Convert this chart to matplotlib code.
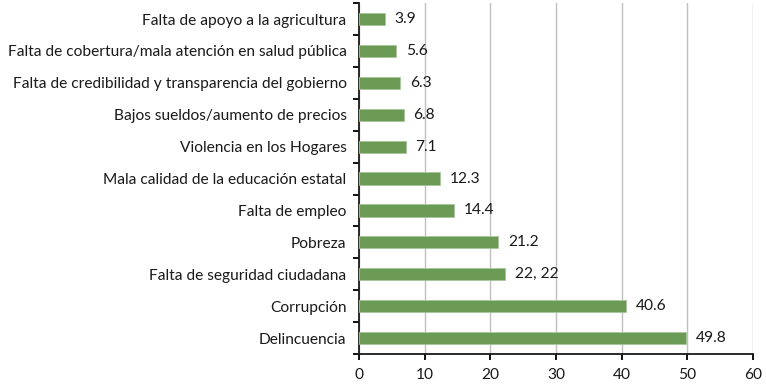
import matplotlib.pyplot as plt

categories = [
    "Falta de apoyo a la agricultura",
    "Falta de cobertura/mala atención en salud pública",
    "Falta de credibilidad y transparencia del gobierno",
    "Bajos sueldos/aumento de precios",
    "Violencia en los Hogares",
    "Mala calidad de la educación estatal",
    "Falta de empleo",
    "Pobreza",
    "Falta de seguridad ciudadana",
    "Corrupción",
    "Delincuencia",
]
values = [3.9, 5.6, 6.3, 6.8, 7.1, 12.3, 14.4, 21.2, 22.22, 40.6, 49.8]
value_labels = ["3.9", "5.6", "6.3", "6.8", "7.1", "12.3", "14.4", "21.2", "22, 22", "40.6", "49.8"]
x_ticks = [0, 10, 20, 30, 40, 50, 60]

plt.rcParams['font.family'] = ['Lato', 'DejaVu Sans']
fs = 11.2

fig = plt.figure(figsize=(7.66, 3.89), dpi=100)
ax = fig.add_axes([0.4687, 0.09, 0.5143, 0.902])

pos = list(range(len(categories)))
ax.barh(pos, values, height=0.38, color='#6b9a55', edgecolor='#a9c69a', linewidth=0.6, zorder=3)

for y, v, lab in zip(pos, values, value_labels):
    ax.text(v + 1.5, y, lab, va='center', ha='left', fontsize=fs, color='#1a1a1a')

ax.set_xlim(0, 60)
ax.set_ylim(len(categories) - 0.5, -0.5)
ax.set_xticks(x_ticks)
ax.set_xticklabels([str(t) for t in x_ticks], fontsize=fs, color='#1a1a1a')

# labels in the middle, ticks on the category boundaries
ax.set_yticks(pos)
ax.set_yticklabels(categories, fontsize=fs, color='#1a1a1a')
ax.tick_params(axis='y', length=0, pad=9)
ax.set_yticks([p - 0.5 for p in range(len(categories) + 1)], minor=True)
ax.tick_params(axis='y', which='minor', length=4, width=1.3, direction='out')
ax.tick_params(axis='x', length=4, width=1.3, direction='out', pad=6)

ax.grid(axis='x', color='#bfbfbf', linewidth=1, zorder=0)
for side in ['top', 'right']:
    ax.spines[side].set_visible(False)
for side in ['left', 'bottom']:
    ax.spines[side].set_linewidth(1.3)
    ax.spines[side].set_color('#1a1a1a')

plt.savefig('out.png', dpi=100)
